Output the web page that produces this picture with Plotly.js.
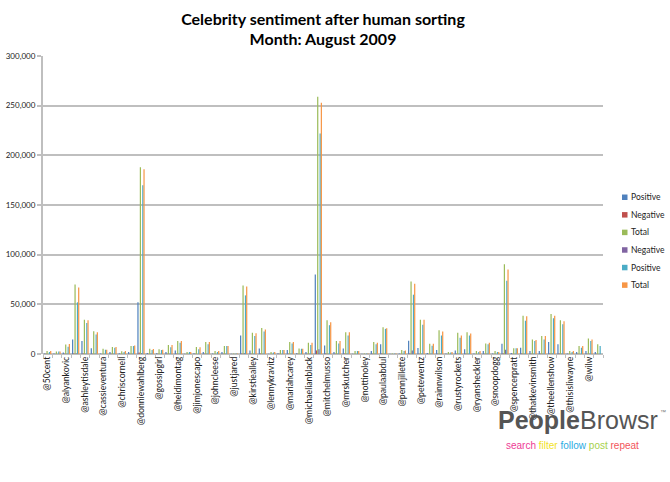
<!DOCTYPE html>
<html>
<head>
<meta charset="utf-8">
<script src="https://cdn.plot.ly/plotly-3.0.1.min.js"></script>
<style>
html,body{margin:0;padding:0;background:#fff;}
#chart{width:670px;height:482px;}
</style>
</head>
<body>
<div id="chart"></div>
<script>
// 60 accounts; only every other one is labelled on the axis
const tickLabels = ["@50cent","@alyankovic","@ashleytisdale","@cassieventura","@chriscornell",
  "@donniewahlberg","@gossipgirl","@heidimontag","@jimjonescapo","@johncleese",
  "@justjared","@kirstiealley","@lennykravitz","@mariahcarey","@michaelianblack",
  "@mitchelmusso","@mrskutcher","@nottinoley","@paulaabdul","@pennjillette",
  "@petewentz","@rainnwilson","@rustyrockets","@ryansheckler","@snoopdogg",
  "@spencerpratt","@thatkevinsmith","@theellenshow","@thisisliwayne","@wilw"];

const positive1 = [600,500,1500,14600,13000,5700,500,2000,800,2000,
  52000,1000,800,2000,3600,300,800,2000,500,2000,
  200,18600,3600,5600,300,800,4000,800,2000,80000,
  8600,2000,5600,300,200,3000,9700,200,500,13400,
  6000,1000,4000,500,3600,4700,500,3000,500,10400,
  1000,6400,3000,3000,12000,9700,500,2000,3000,2000];
const negative1 = [200,100,300,500,400,300,100,200,100,300,
  1500,200,200,300,300,100,200,300,100,200,
  50,600,300,400,100,200,300,200,300,3600,
  400,300,400,100,50,300,400,50,100,500,
  300,200,300,100,300,300,100,200,100,600,
  200,400,300,300,500,400,100,200,300,200];
const total1 = [3000,2500,9600,70000,34600,23000,5300,7000,2700,8000,
  188000,5300,4700,9000,13000,2000,7000,12000,3000,8000,
  500,69000,21300,26300,2000,4000,12000,5600,11300,259000,
  34000,13000,22000,3000,500,12000,27000,500,4000,73000,
  34500,10400,24000,2000,21300,22000,3000,10600,3000,90300,
  5700,38600,14600,18000,40300,34000,3000,8000,15600,9700];
const negative2 = [100,100,200,400,300,300,100,200,100,200,
  800,200,100,200,200,100,100,200,100,200,
  50,700,300,300,100,100,200,100,200,4700,
  300,200,300,100,50,200,300,50,100,3400,
  300,200,200,100,200,300,100,200,100,4400,
  100,300,200,200,400,300,100,100,200,100];
const positive2 = [2000,2500,7300,52000,31300,19600,4300,6300,2000,8000,
  170000,4000,4000,6700,11300,2000,4700,9700,2000,8000,
  400,59000,18000,22600,1500,4000,10600,5300,9000,222000,
  29000,10600,18600,3000,400,9700,25300,400,3000,59700,
  29500,8400,18600,1500,16300,18600,2000,9700,2000,73800,
  5700,33500,13000,14600,36000,30000,2000,6300,13000,8000];
const total2 = [3000,2500,10000,67000,34000,22000,4300,7000,3000,8600,
  186000,5000,4300,9000,13000,2000,6700,12000,3000,8000,
  500,68000,21000,24600,2000,4000,12000,5300,11300,253000,
  32000,13000,22000,3000,500,11300,26000,500,3600,70800,
  34500,10400,22600,2000,18600,20600,3000,11300,2000,85000,
  5700,38000,14000,18000,38600,33000,3000,8000,14600,0];

const seriesNames = ["Positive","Negative","Total","Negative","Positive","Total"];
const seriesColors = ["#4F81BD","#C0504D","#9BBB59","#8064A2","#4BACC6","#F79646"];
const seriesData = [positive1, negative1, total1, negative2, positive2, total2];

const idx = positive1.map((_, i) => i);
const labelPos = tickLabels.map((_, k) => 2 * k);

const traces = seriesData.map((vals, s) => ({
  type: 'bar',
  x: idx,
  y: vals,
  name: seriesNames[s],
  marker: {color: seriesColors[s], line: {width: 0}},
  hoverinfo: 'y+name'
}));

const fontFam = 'Lato, "Liberation Sans", sans-serif';
const plotL = 43, plotR = 603, plotT = 56, plotB = 354.5;
const pw = plotR - plotL, ph = plotB - plotT;
const px = v => (v - plotL) / pw;
const py = v => (plotB - v) / ph;

// legend drawn as small swatches + labels from the series names/colours
const legendShapes = [], legendAnns = [];
seriesNames.forEach((nm, s) => {
  const yc = 197.5 + 17.6 * s;
  legendShapes.push({
    type: 'rect', xref: 'paper', yref: 'paper',
    x0: px(622), x1: px(627.5), y0: py(yc + 2.75), y1: py(yc - 2.75),
    fillcolor: seriesColors[s], line: {width: 0}
  });
  legendAnns.push({
    xref: 'paper', yref: 'paper', x: px(628.5), y: py(yc), xanchor: 'left', yanchor: 'middle',
    text: nm, showarrow: false,
    font: {family: fontFam, size: 8.5, color: '#222'}
  });
});

const layout = {
  width: 670, height: 482,
  margin: {l: plotL, r: 670 - plotR, t: plotT, b: 482 - plotB, pad: 0},
  paper_bgcolor: '#fff', plot_bgcolor: '#fff',
  barmode: 'group', bargap: 0.22, bargroupgap: 0,
  showlegend: false,
  title: {
    text: '<b>Celebrity sentiment after human sorting<br>Month: August 2009</b>',
    font: {family: fontFam, size: 16, color: '#000'},
    x: 0.5, xref: 'paper', xanchor: 'center',
    y: 0.949, yref: 'container', yanchor: 'top'
  },
  xaxis: {
    range: [-0.5, idx.length - 0.5],
    tickmode: 'array', tickvals: labelPos, ticktext: tickLabels,
    tickangle: -90, ticks: '', showgrid: false, zeroline: false, showline: false,
    tickfont: {family: fontFam, size: 8.7, color: '#222'},
    minor: {tick0: -0.5, dtick: 1, ticks: 'outside', ticklen: 3, tickcolor: '#bfbfbf', tickwidth: 1, showgrid: false},
    fixedrange: true
  },
  yaxis: {
    range: [0, 300000], tickvals: [0,50000,100000,150000,200000,250000,300000],
    tickformat: ',d',
    showgrid: true, gridcolor: '#bfbfbf', gridwidth: 2,
    zeroline: true, zerolinecolor: '#bfbfbf', zerolinewidth: 2,
    showline: true, linecolor: '#bfbfbf', linewidth: 2,
    ticks: 'outside', ticklen: 4, tickcolor: '#bfbfbf', tickwidth: 2,
    tickfont: {family: fontFam, size: 8, color: '#222'},
    fixedrange: true
  },
  shapes: legendShapes,
  annotations: legendAnns.concat([
    {
      xref: 'paper', yref: 'paper', x: px(496), y: py(421), xanchor: 'left', yanchor: 'middle',
      text: '<b>People</b>Browsr', showarrow: false,
      font: {family: '"Liberation Sans", Arial, sans-serif', size: 25, color: '#555'}
    },
    {
      xref: 'paper', yref: 'paper', x: px(658), y: py(413), xanchor: 'left', yanchor: 'middle',
      text: '™', showarrow: false,
      font: {family: '"Liberation Sans", Arial, sans-serif', size: 6, color: '#777'}
    },
    {
      xref: 'paper', yref: 'paper', x: px(504), y: py(446), xanchor: 'left', yanchor: 'middle',
      text: '<span style="color:#EE3A95">search</span> <span style="color:#F2E21E">filter</span> <span style="color:#2AAAE2">follow</span> <span style="color:#A6D14A">post</span> <span style="color:#F2555A">repeat</span>',
      showarrow: false,
      font: {family: '"Liberation Sans", Arial, sans-serif', size: 10}
    }
  ])
};

Plotly.newPlot('chart', traces, layout, {displayModeBar: false, staticPlot: true});
</script>
</body>
</html>
